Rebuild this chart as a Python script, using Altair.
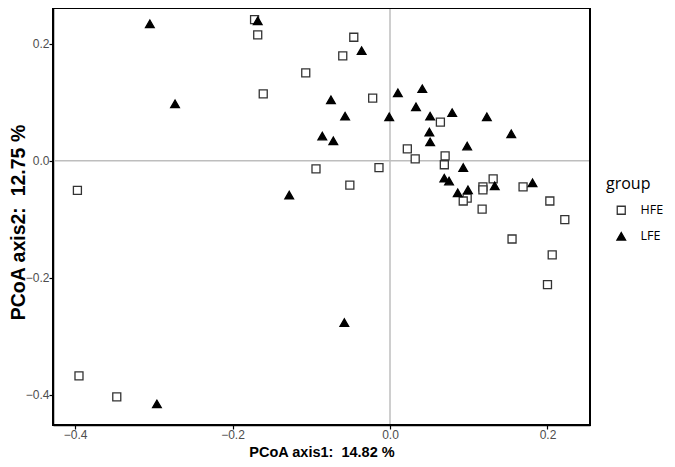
import altair as alt
import pandas as pd

# HFE group (open squares)
hfe_x = [-0.172, -0.168, -0.046, -0.060, -0.107, -0.161, -0.022, -0.397, -0.094, -0.051,
         -0.014, 0.022, 0.032, 0.064, 0.070, 0.069, 0.131, 0.118, 0.118, 0.098,
         0.093, 0.169, 0.203, 0.117, 0.222, 0.155, 0.206, 0.200, -0.395, -0.347]
hfe_y = [0.241, 0.215, 0.211, 0.179, 0.150, 0.114, 0.107, -0.051, -0.014, -0.042,
         -0.012, 0.020, 0.003, 0.066, 0.008, -0.007, -0.031, -0.045, -0.050, -0.064,
         -0.069, -0.045, -0.069, -0.083, -0.101, -0.134, -0.161, -0.212, -0.368, -0.404]

# LFE group (filled triangles)
lfe_x = [-0.305, -0.273, -0.168, -0.036, -0.075, -0.057, -0.001, 0.010, 0.033, -0.086,
         -0.072, 0.041, 0.051, 0.079, 0.123, 0.050, 0.051, 0.098, 0.154, 0.093,
         0.069, 0.075, 0.099, 0.086, 0.133, 0.181, -0.128, -0.058, -0.296]
lfe_y = [0.234, 0.097, 0.239, 0.188, 0.104, 0.076, 0.075, 0.116, 0.092, 0.042,
         0.034, 0.123, 0.076, 0.082, 0.075, 0.049, 0.032, 0.025, 0.046, -0.012,
         -0.030, -0.035, -0.050, -0.055, -0.043, -0.038, -0.059, -0.277, -0.416]

groups = ["HFE", "LFE"]
tick_values = [-0.4, -0.2, 0.0, 0.2]

df = pd.DataFrame({
    "x": hfe_x + lfe_x,
    "y": hfe_y + lfe_y,
    "group": ["HFE"] * len(hfe_x) + ["LFE"] * len(lfe_x),
})

W, H = 537, 417
xdom = [-0.428, 0.254]
ydom = [-0.452, 0.261]

xscale = alt.Scale(domain=xdom, nice=False, zero=False)
yscale = alt.Scale(domain=ydom, nice=False, zero=False)

leg = alt.Legend(
    title="group", orient="none", legendX=553, legendY=168,
    titleFont="Open Sans", titleFontSize=16, titleFontWeight="normal", titleColor="black",
    titlePadding=12, labelFont="Open Sans", labelFontSize=12.5, labelColor="black",
    symbolSize=50, symbolOffset=9, labelOffset=13, rowPadding=12,
    symbolStrokeWidth=1.3,
)

xaxis = alt.Axis(values=tick_values, format=".1f", title="PCoA axis1: \u00a014.82 %",
                 grid=False, titleY=31, titleBaseline="alphabetic", titleFontSize=14.5)
yaxis = alt.Axis(values=tick_values, format=".1f", title="PCoA axis2: \u00a012.75 %",
                 grid=False, titleX=-29, titleY=214, titleBaseline="alphabetic",
                 titleAngle=-90, titleAlign="center", titleFontSize=19.5)

border = alt.Chart(pd.DataFrame({"b": [0]})).mark_rect(
    fill=None, fillOpacity=0, stroke="black", strokeWidth=2
).encode(x=alt.value(0), x2=alt.value(W), y=alt.value(0), y2=alt.value(H))

hline = alt.Chart(pd.DataFrame({"v": [0.0]})).mark_rule(color="#BEBEBE", strokeWidth=1.5).encode(
    y=alt.Y("v:Q", scale=yscale, axis=yaxis)
)
vline = alt.Chart(pd.DataFrame({"v": [0.0]})).mark_rule(color="#BEBEBE", strokeWidth=1.5).encode(
    x=alt.X("v:Q", scale=xscale, axis=xaxis)
)

points = alt.Chart(df).mark_point(opacity=1, strokeWidth=1.3).encode(
    x=alt.X("x:Q", scale=xscale, axis=xaxis),
    y=alt.Y("y:Q", scale=yscale, axis=yaxis),
    shape=alt.Shape("group:N", scale=alt.Scale(domain=groups, range=["square", "triangle-up"]), legend=leg),
    fill=alt.Fill("group:N", scale=alt.Scale(domain=groups, range=["white", "black"]), legend=leg),
    stroke=alt.Stroke("group:N", scale=alt.Scale(domain=groups, range=["#333333", "black"]), legend=leg),
    size=alt.Size("group:N", scale=alt.Scale(domain=groups, range=[64, 75]), legend=leg),
)

chart = alt.layer(hline, vline, points, border).properties(
    width=W, height=H,
    autosize=alt.AutoSizeParams(type="none"),
    padding={"left": 45, "top": 0, "right": 77, "bottom": 34},
    background="white",
).configure_view(
    stroke="black", strokeWidth=2
).configure_axis(
    domainColor="black", domainWidth=1.5, tickColor="black", tickSize=4, tickWidth=1.2,
    labelColor="#4D4D4D", labelFont="Liberation Sans", labelFontSize=12, labelPadding=0,
    titleFont="Liberation Sans", titleFontWeight="bold", titleColor="black",
)

chart.save("out.html", embed_options={"renderer": "svg", "actions": False})
